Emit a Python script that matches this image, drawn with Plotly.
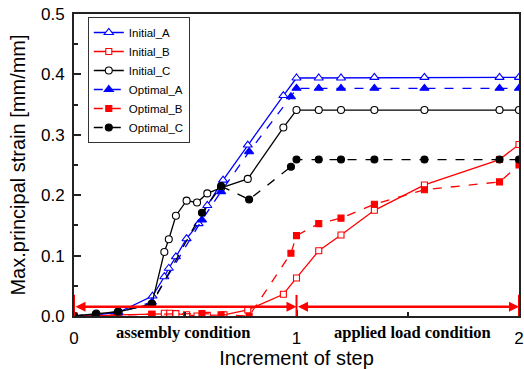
import plotly.graph_objects as go

# ---- data ----
init_a_x = [0, 0.1, 0.2, 0.353, 0.406, 0.426, 0.458, 0.506, 0.56, 0.599, 0.67, 0.781, 0.941, 1.0, 1.1, 1.2, 1.35, 1.575, 1.9125, 2.0]
init_a_y = [0, 0.002, 0.006, 0.033, 0.065, 0.079, 0.098, 0.128, 0.153, 0.183, 0.225, 0.283, 0.365, 0.394, 0.394, 0.394, 0.395, 0.395, 0.395, 0.395]

init_b_x = [0, 0.1, 0.2, 0.35, 0.406, 0.43, 0.458, 0.506, 0.553, 0.599, 0.674, 0.781, 0.941, 1.0, 1.1, 1.2, 1.35, 1.575, 1.9125, 2.0]
init_b_y = [0, 0.0, 0.002, 0.003, 0.0045, 0.0045, 0.004, 0.002, 0.0, 0.001, 0.002, 0.01, 0.036, 0.063, 0.108, 0.134, 0.175, 0.217, 0.259, 0.284]

init_c_x = [0, 0.1, 0.2, 0.35, 0.406, 0.426, 0.458, 0.506, 0.553, 0.599, 0.661, 0.781, 0.941, 1.0, 1.1, 1.2, 1.35, 1.575, 1.9125, 2.0]
init_c_y = [0, 0.004, 0.007, 0.02, 0.106, 0.127, 0.166, 0.191, 0.188, 0.203, 0.212, 0.227, 0.312, 0.341, 0.341, 0.341, 0.341, 0.341, 0.341, 0.341]

opt_x = [0, 0.098, 0.197, 0.35, 0.575, 0.661, 0.787, 0.975, 1.0, 1.1, 1.2, 1.35, 1.575, 1.9125, 2.0]
opt_a_y = [0, 0.002, 0.005, 0.023, 0.159, 0.206, 0.272, 0.363, 0.377, 0.377, 0.377, 0.377, 0.377, 0.377, 0.377]
opt_b_y = [0, 0.001, 0.002, 0.003, 0.004, 0.002, 0.0, 0.104, 0.133, 0.153, 0.162, 0.185, 0.209, 0.222, 0.25]
opt_c_y = [0, 0.003, 0.007, 0.02, 0.171, 0.215, 0.193, 0.247, 0.259, 0.259, 0.259, 0.259, 0.259, 0.259, 0.259]

step_bounds = [0, 1, 2]
arrow_y = 0.0155
bar_top = 0.035
phase_labels = ["assembly condition", "applied load condition"]
phase_label_x = [0.49, 1.52]

x_ticks = [0, 1, 2]
y_ticks = [0.0, 0.1, 0.2, 0.3, 0.4, 0.5]

BLUE = "#0000ff"
RED = "#ff0000"
BLACK = "#000000"

fig = go.Figure()

def add(name, x, y, color, dash, symbol, size, open_marker):
    fig.add_trace(go.Scatter(
        x=x, y=y, name=name, mode="lines+markers",
        line=dict(color=color, width=1.3, dash=dash),
        marker=dict(symbol=symbol, size=size,
                    color="white" if open_marker else color,
                    line=dict(color=color, width=1.1)),
    ))

add("Initial_A", init_a_x, init_a_y, BLUE, "solid", "triangle-up", 8, True)
add("Initial_B", init_b_x, init_b_y, RED, "solid", "square", 6, True)
add("Initial_C", init_c_x, init_c_y, BLACK, "solid", "circle", 7, True)
add("Optimal_A", opt_x, opt_a_y, BLUE, "dash", "triangle-up", 8, False)
add("Optimal_B", opt_x, opt_b_y, RED, "dash", "square", 6, False)
add("Optimal_C", opt_x, opt_c_y, BLACK, "dash", "circle", 7, False)

# red double-headed arrows for the two steps
for i in range(len(step_bounds) - 1):
    fig.add_annotation(
        x=step_bounds[i + 1], y=arrow_y, ax=step_bounds[i], ay=arrow_y,
        xref="x", yref="y", axref="x", ayref="y",
        text="", showarrow=True, arrowhead=2, startarrowhead=2,
        arrowside="end+start", arrowwidth=2.5, arrowsize=0.8,
        startarrowsize=0.8, arrowcolor=RED,
    )
for b in step_bounds:
    fig.add_shape(type="line", x0=b, x1=b, y0=0, y1=bar_top,
                  xref="x", yref="y", line=dict(color=RED, width=2))

for lab, lx in zip(phase_labels, phase_label_x):
    fig.add_annotation(x=lx, y=-0.056, xref="x", yref="paper", text=f"<b>{lab}</b>",
                       showarrow=False, yanchor="middle",
                       font=dict(family="Liberation Serif, Times New Roman, serif", size=16.5, color="black"))

fig.update_layout(
    width=524, height=369,
    margin=dict(l=74, r=5, t=14, b=53),
    paper_bgcolor="white", plot_bgcolor="white",
    font=dict(family="Arial, Liberation Sans, sans-serif", color="black"),
    showlegend=True,
    legend=dict(x=0.031, y=0.99, xanchor="left", yanchor="top",
                bgcolor="white", bordercolor="#333", borderwidth=1,
                font=dict(size=11.5), itemwidth=30, tracegroupgap=0),
)
fig.update_xaxes(
    range=[0, 2], tickvals=x_ticks, ticktext=[str(t) for t in x_ticks],
    ticks="inside", ticklen=6, tickwidth=1.5, tickcolor="#222",
    minor=dict(ticks="inside", dtick=0.5, ticklen=4, tickcolor="#222"),
    showline=True, mirror=True, linewidth=2, linecolor="#222",
    showgrid=False, zeroline=False, automargin=False,
    tickfont=dict(size=17), ticklabelstandoff=6,
    title=dict(text="Increment of step", font=dict(size=20), standoff=1),
)
fig.update_yaxes(
    range=[0, 0.5], tickvals=y_ticks, ticktext=[f"{t:.1f}" for t in y_ticks],
    ticks="inside", ticklen=7, tickwidth=1.5, tickcolor="#222",
    minor=dict(ticks="inside", dtick=0.05, ticklen=4, tickcolor="#222"),
    showline=True, mirror=True, linewidth=2, linecolor="#222",
    showgrid=False, zeroline=False, automargin=False,
    tickfont=dict(size=17), ticklabelstandoff=4,
    title=dict(text="Max.principal strain [mm/mm]", font=dict(size=20), standoff=10),
)

fig.write_html("out.html")
